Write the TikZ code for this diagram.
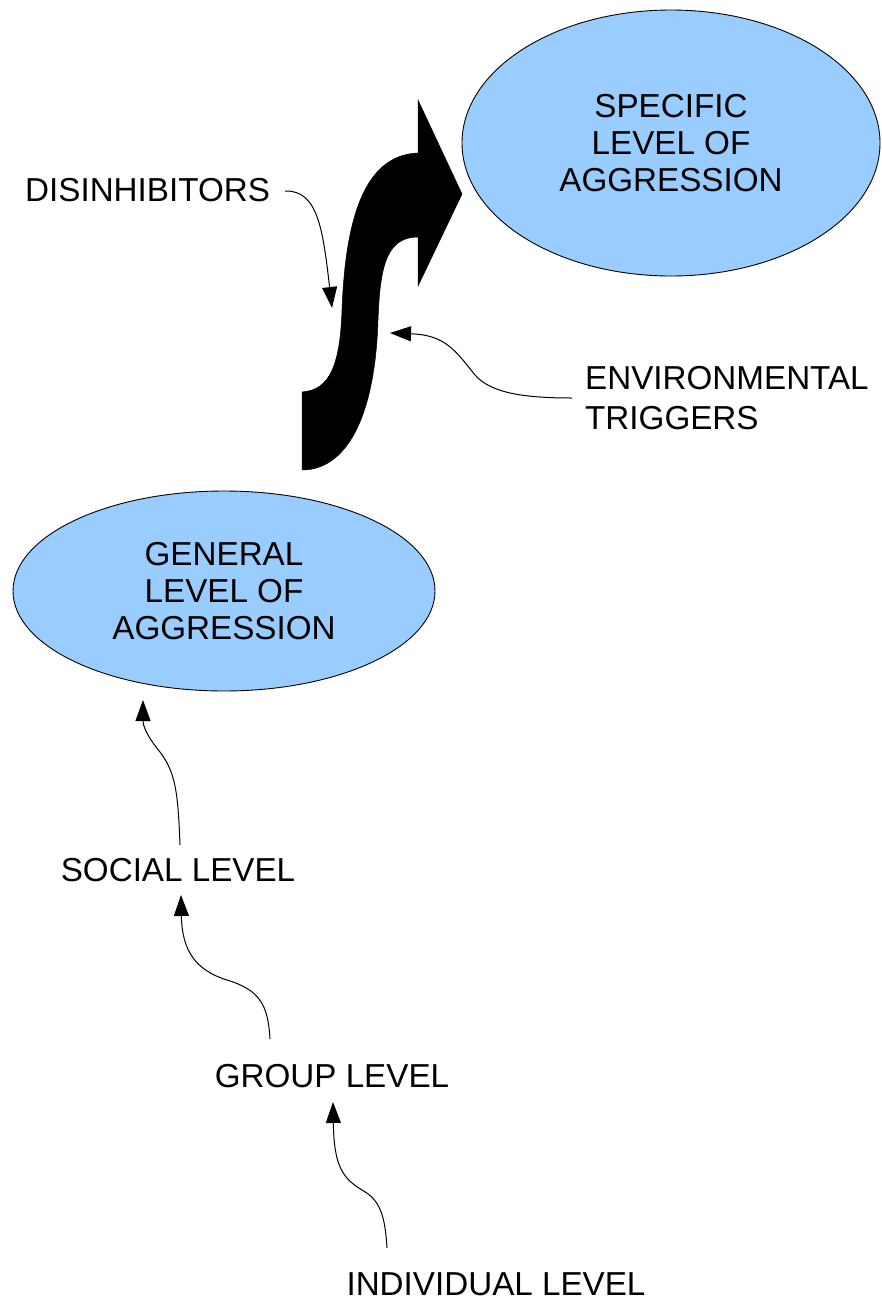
\documentclass[tikz,border=0pt]{standalone}
\usepackage{fontspec}
\setmainfont{Liberation Sans}
\usetikzlibrary{shapes.geometric,arrows.meta}
\definecolor{ellfill}{HTML}{99CCFF}
\tikzset{
  lbl/.style={font=\fontsize{33.2}{37}\selectfont, inner sep=0pt, text=black},
  ell/.style={ellipse, draw=black, line width=0.9pt, fill=ellfill, inner sep=0pt, align=center,
              font=\fontsize{33.2}{37}\selectfont},
  conn/.style={draw=black, line width=1pt, -{Triangle[length=21pt,width=15pt]}},
  bigarrow/.style={fill=black, draw=black, line width=0.5pt}
}
\begin{document}
\begin{tikzpicture}[x=1pt,y=-1pt]
\useasboundingbox (0,0) rectangle (881,1304);

% ellipses
\node[ell, minimum width=418pt, minimum height=266pt] (specific) at (671,143) {SPECIFIC\\LEVEL OF\\AGGRESSION};
\node[ell, minimum width=422pt, minimum height=200pt] (general) at (224,591) {GENERAL\\LEVEL OF\\AGGRESSION};

% labels
\node[lbl, anchor=west] (disinh) at (25,190) {DISINHIBITORS};
\node[lbl, anchor=west, align=left, font=\fontsize{33.2}{40}\selectfont] (env) at (585,398) {ENVIRONMENTAL\\TRIGGERS};
\node[lbl] (social) at (178,870) {SOCIAL LEVEL};
\node[lbl] (group) at (332,1076) {GROUP LEVEL};
\node[lbl] (indiv) at (496,1284) {INDIVIDUAL LEVEL};

% big S-shaped arrow
\path[bigarrow] (302,470) -- (302,392)
  .. controls (330,390) and (340,365) .. (342,310)
  .. controls (345,230) and (360,155) .. (418,153)
  -- (418,100) -- (462,194) -- (418,286) -- (418,237)
  .. controls (385,237) and (380,270) .. (378,320)
  .. controls (375,420) and (345,470) .. (302,470) -- cycle;

% connector end points on the big arrow
\coordinate (dtip) at (332,308);
\coordinate (etip) at (390,333);

% connectors
\draw[conn] ([xshift=15pt,yshift=-1pt]disinh.east)
  .. controls (318,190) and (323,230) .. (dtip);
\draw[conn] ([xshift=-13pt]env.west)
  .. controls (520,398) and (490,392) .. (475,375)
  .. controls (455,350) and (445,335) .. (etip);
\draw[conn] ([xshift=2pt,yshift=25pt]social.center)
  .. controls (178,790) and (175,772) .. (160,752)
  .. controls (146,735) and (143,725) .. ([xshift=-81pt,yshift=-109pt]general.center);
\draw[conn] ([xshift=-62pt,yshift=37pt]group.center)
  .. controls (268,1005) and (260,990) .. (227,980)
  .. controls (195,970) and (182,950) .. ([xshift=3pt,yshift=-25pt]social.center);
\draw[conn] ([xshift=-109pt,yshift=36pt]indiv.center)
  .. controls (385,1215) and (380,1200) .. (362,1190)
  .. controls (342,1178) and (334,1165) .. ([xshift=1pt,yshift=-26pt]group.center);
\end{tikzpicture}
\end{document}
